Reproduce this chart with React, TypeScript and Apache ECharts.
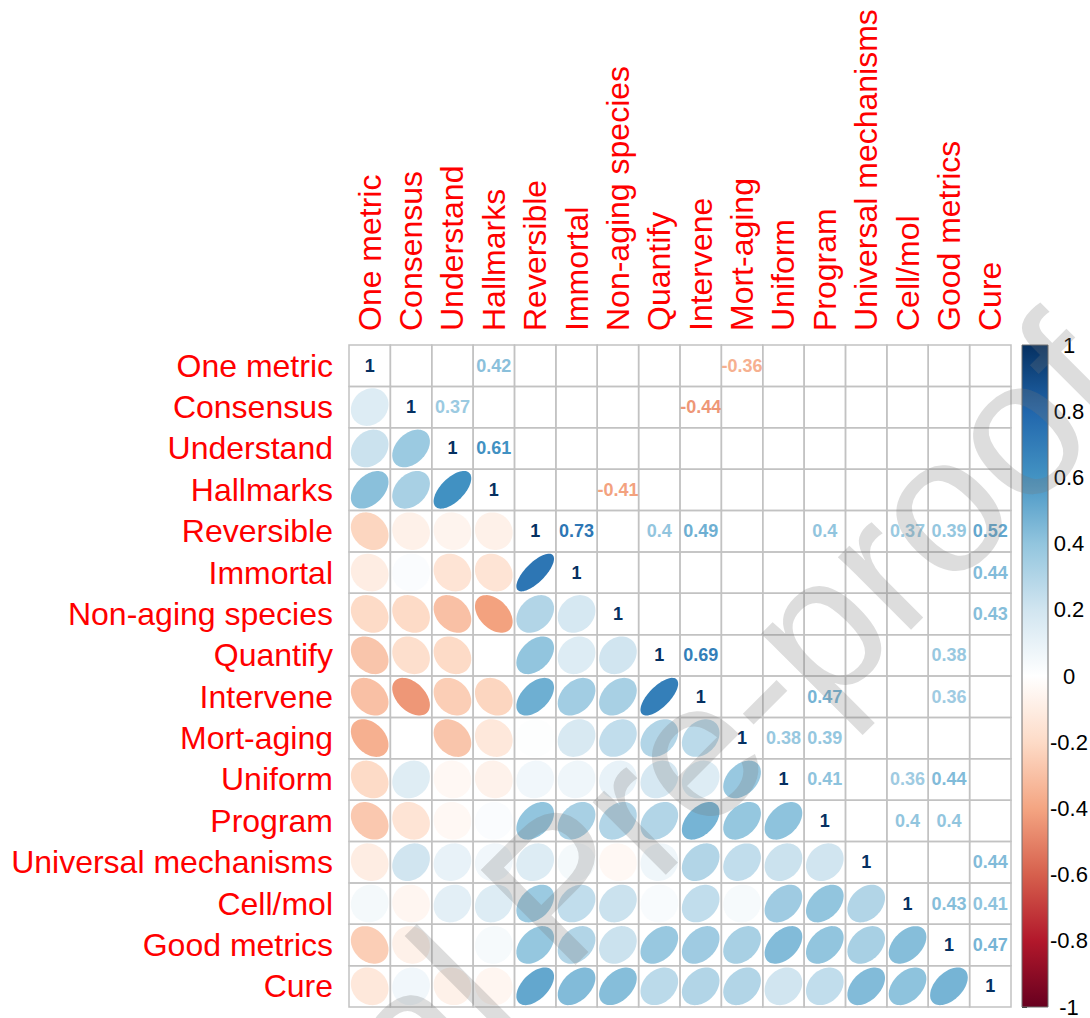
import React, { useEffect, useRef } from "react";
import * as echarts from "echarts";

// Variable names (rows top-to-bottom, columns left-to-right)
const labels = [
  "One metric",
  "Consensus",
  "Understand",
  "Hallmarks",
  "Reversible",
  "Immortal",
  "Non-aging species",
  "Quantify",
  "Intervene",
  "Mort-aging",
  "Uniform",
  "Program",
  "Universal mechanisms",
  "Cell/mol",
  "Good metrics",
  "Cure",
];

// Lower-triangle correlations: row i vs columns 0..i-1
const rowOneMetric: number[] = [];
const rowConsensus = [0.15];
const rowUnderstand = [0.22, 0.37];
const rowHallmarks = [0.42, 0.33, 0.61];
const rowReversible = [-0.22, -0.08, -0.06, -0.08];
const rowImmortal = [-0.1, 0.02, -0.15, -0.15, 0.73];
const rowNonAging = [-0.2, -0.2, -0.3, -0.41, 0.3, 0.18];
const rowQuantify = [-0.28, -0.18, -0.2, 0.0, 0.4, 0.15, 0.2];
const rowIntervene = [-0.3, -0.44, -0.25, -0.22, 0.49, 0.35, 0.33, 0.69];
const rowMortAging = [-0.36, 0.0, -0.28, -0.13, 0.01, 0.17, 0.25, 0.3, 0.27];
const rowUniform = [-0.2, 0.14, -0.04, -0.07, 0.06, 0.07, 0.1, 0.18, 0.15, 0.38];
const rowProgram = [-0.27, -0.15, -0.04, 0.02, 0.4, 0.33, 0.3, 0.3, 0.47, 0.39, 0.41];
const rowUniversal = [-0.1, 0.2, 0.1, 0.06, 0.15, 0.05, -0.04, 0.07, 0.3, 0.25, 0.22, 0.2];
const rowCellMol = [0.05, -0.05, 0.12, 0.15, 0.37, 0.25, 0.22, 0.03, 0.25, 0.04, 0.36, 0.4, 0.3];
const rowGoodMetrics = [-0.25, -0.08, 0.0, 0.04, 0.39, 0.3, 0.22, 0.38, 0.36, 0.33, 0.44, 0.4, 0.33, 0.43];
const rowCure = [-0.13, 0.06, -0.08, -0.05, 0.52, 0.44, 0.43, 0.27, 0.3, 0.3, 0.2, 0.25, 0.44, 0.41, 0.47];

// Coefficients shown in the upper triangle (significant ones only)
const significanceThreshold = 0.355;

// Colour bar
const colorbarRange = [-1, 1];
const colorbarTicks = { min: -1, max: 1, interval: 0.2 };
const palette = [
  "#67001F",
  "#B2182B",
  "#D6604D",
  "#F4A582",
  "#FDDBC7",
  "#FFFFFF",
  "#D1E5F0",
  "#92C5DE",
  "#4393C3",
  "#2166AC",
  "#053061",
];

// Watermark text
const watermarkLead = "Journal";
const watermarkMain = "Pre-proof";

const lowerRows = [
  rowOneMetric,
  rowConsensus,
  rowUnderstand,
  rowHallmarks,
  rowReversible,
  rowImmortal,
  rowNonAging,
  rowQuantify,
  rowIntervene,
  rowMortAging,
  rowUniform,
  rowProgram,
  rowUniversal,
  rowCellMol,
  rowGoodMetrics,
  rowCure,
];

function hexToRgb(h: string) {
  return [parseInt(h.slice(1, 3), 16), parseInt(h.slice(3, 5), 16), parseInt(h.slice(5, 7), 16)];
}

function colorFor(r: number) {
  const t = ((Math.max(-1, Math.min(1, r)) + 1) / 2) * (palette.length - 1);
  const k = Math.min(palette.length - 2, Math.floor(t));
  const f = t - k;
  const a = hexToRgb(palette[k]);
  const b = hexToRgb(palette[k + 1]);
  const c = a.map((v, idx) => Math.round(v + (b[idx] - v) * f));
  return `rgb(${c[0]},${c[1]},${c[2]})`;
}

function fmt(r: number) {
  return String(Number(r.toFixed(2)));
}

export default function App() {
  const ref = useRef<HTMLDivElement>(null);

  useEffect(() => {
    document.body.style.margin = "0";
    const chart = echarts.init(ref.current!, null, { renderer: "svg" });

    const n = labels.length;
    const cellData: number[][] = [];
    for (let i = 0; i < n; i++) {
      for (let j = 0; j < n; j++) {
        let r: number;
        let kind: number;
        if (i === j) {
          r = 1;
          kind = 1;
        } else if (i > j) {
          r = lowerRows[i][j];
          kind = 0;
        } else {
          r = lowerRows[j][i];
          kind = 2;
        }
        cellData.push([j, i, r, kind]);
      }
    }

    const font = "Liberation Sans, Arial, sans-serif";

    const renderCell = (params: any, api: any) => {
      const j = api.value(0);
      const i = api.value(1);
      const r = api.value(2);
      const kind = api.value(3);
      const c = api.coord([j, i]);
      const sz = api.size([1, 1]);
      const w = sz[0];
      const h = sz[1];
      const cx = c[0];
      const cy = c[1];
      const children: any[] = [
        {
          type: "rect",
          shape: { x: cx - w / 2, y: cy - h / 2, width: w, height: h },
          style: { fill: "none", stroke: "#c2c2c2", lineWidth: 1.5 },
        },
      ];
      if (kind === 0) {
        const a = Math.acos(r);
        const pts: number[][] = [];
        const steps = 72;
        const s = 0.91;
        for (let k = 0; k < steps; k++) {
          const t = (k / steps) * Math.PI * 2;
          const dx = (s * w * Math.cos(t + a / 2)) / 2;
          const dy = (s * h * Math.cos(t - a / 2)) / 2;
          pts.push([cx + dx, cy - dy]);
        }
        children.push({
          type: "polygon",
          shape: { points: pts },
          style: { fill: colorFor(r), stroke: "none" },
        });
      } else if (kind === 1 || Math.abs(r) >= significanceThreshold) {
        children.push({
          type: "text",
          style: {
            text: kind === 1 ? "1" : fmt(r),
            x: cx,
            y: cy,
            align: "center",
            verticalAlign: "middle",
            fill: kind === 1 ? "#053061" : colorFor(r),
            fontSize: 18,
            fontWeight: "bold",
            fontFamily: font,
          },
        });
      }
      return { type: "group", children };
    };

    const renderColorbar = (params: any, api: any) => {
      const p0 = api.coord([0, colorbarRange[0]]);
      const p1 = api.coord([1, colorbarRange[1]]);
      const stops = palette.map((col, k) => ({ offset: k / (palette.length - 1), color: col }));
      return {
        type: "rect",
        shape: {
          x: Math.min(p0[0], p1[0]),
          y: Math.min(p0[1], p1[1]),
          width: Math.abs(p1[0] - p0[0]),
          height: Math.abs(p1[1] - p0[1]),
        },
        style: {
          fill: new echarts.graphic.LinearGradient(0, 1, 0, 0, stops),
          stroke: "#6f6f6f",
          lineWidth: 1,
        },
      };
    };

    // watermark geometry (baseline rotated 45 degrees)
    const wmAngle = (45 * Math.PI) / 180;
    const wmSize = 195;
    const bx = Math.cos(wmAngle);
    const by = -Math.sin(wmAngle);
    const ux = -Math.sin(wmAngle);
    const uy = -Math.cos(wmAngle);
    const pOrigin = [564, 976];
    const central = 0.3465 * wmSize;
    const mainAnchor = [pOrigin[0] + central * ux, pOrigin[1] + central * uy];
    const space = 0.278 * wmSize;
    const leadAnchor = [mainAnchor[0] - space * bx, mainAnchor[1] - space * by];
    const wmStyle = {
      fontSize: wmSize,
      fontFamily: font,
      fill: "rgba(120,120,120,0.25)",
      verticalAlign: "middle",
    };

    const option: any = {
      animation: false,
      backgroundColor: "#ffffff",
      grid: [
        { left: 349, top: 345, width: 662, height: 662, containLabel: false, outerBoundsMode: "none" },
        { left: 1022, top: 345, width: 26, height: 662, containLabel: false, outerBoundsMode: "none" },
      ],
      xAxis: [
        {
          type: "category",
          gridIndex: 0,
          data: labels,
          position: "top",
          axisLine: { show: false },
          axisTick: { show: false },
          splitLine: { show: false },
          axisLabel: {
            interval: 0,
            rotate: -90,
            color: "#FF0000",
            fontSize: 32,
            fontFamily: font,
            margin: 14,
          },
        },
        {
          type: "value",
          gridIndex: 1,
          min: 0,
          max: 1,
          show: false,
        },
      ],
      yAxis: [
        {
          type: "category",
          gridIndex: 0,
          data: labels,
          inverse: true,
          axisLine: { show: false },
          axisTick: { show: false },
          splitLine: { show: false },
          axisLabel: {
            interval: 0,
            color: "#FF0000",
            fontSize: 32,
            fontFamily: font,
            margin: 16,
          },
        },
        {
          type: "value",
          gridIndex: 1,
          position: "right",
          min: colorbarTicks.min,
          max: colorbarTicks.max,
          interval: colorbarTicks.interval,
          axisLine: { show: false },
          axisTick: { show: true, length: 5, lineStyle: { color: "#222", width: 1 } },
          splitLine: { show: false },
          axisLabel: {
            color: "#000",
            fontSize: 22,
            fontFamily: font,
            margin: 21,
            align: "center",
          },
        },
      ],
      series: [
        {
          type: "custom",
          xAxisIndex: 0,
          yAxisIndex: 0,
          data: cellData,
          encode: { x: 0, y: 1 },
          renderItem: renderCell,
          silent: true,
        },
        {
          type: "custom",
          xAxisIndex: 1,
          yAxisIndex: 1,
          data: [[0, colorbarRange[0]]],
          encode: { x: 0, y: 1 },
          renderItem: renderColorbar,
          silent: true,
        },
      ],
      graphic: [
        {
          type: "text",
          x: mainAnchor[0],
          y: mainAnchor[1],
          rotation: wmAngle,
          z: 100,
          silent: true,
          style: { ...wmStyle, text: watermarkMain, align: "left" },
        },
        {
          type: "text",
          x: leadAnchor[0],
          y: leadAnchor[1],
          rotation: wmAngle,
          z: 100,
          silent: true,
          style: { ...wmStyle, text: watermarkLead, align: "right" },
        },
      ],
    };

    chart.setOption(option);
    return () => chart.dispose();
  }, []);

  return <div ref={ref} style={{ width: 1090, height: 1018 }} />;
}
